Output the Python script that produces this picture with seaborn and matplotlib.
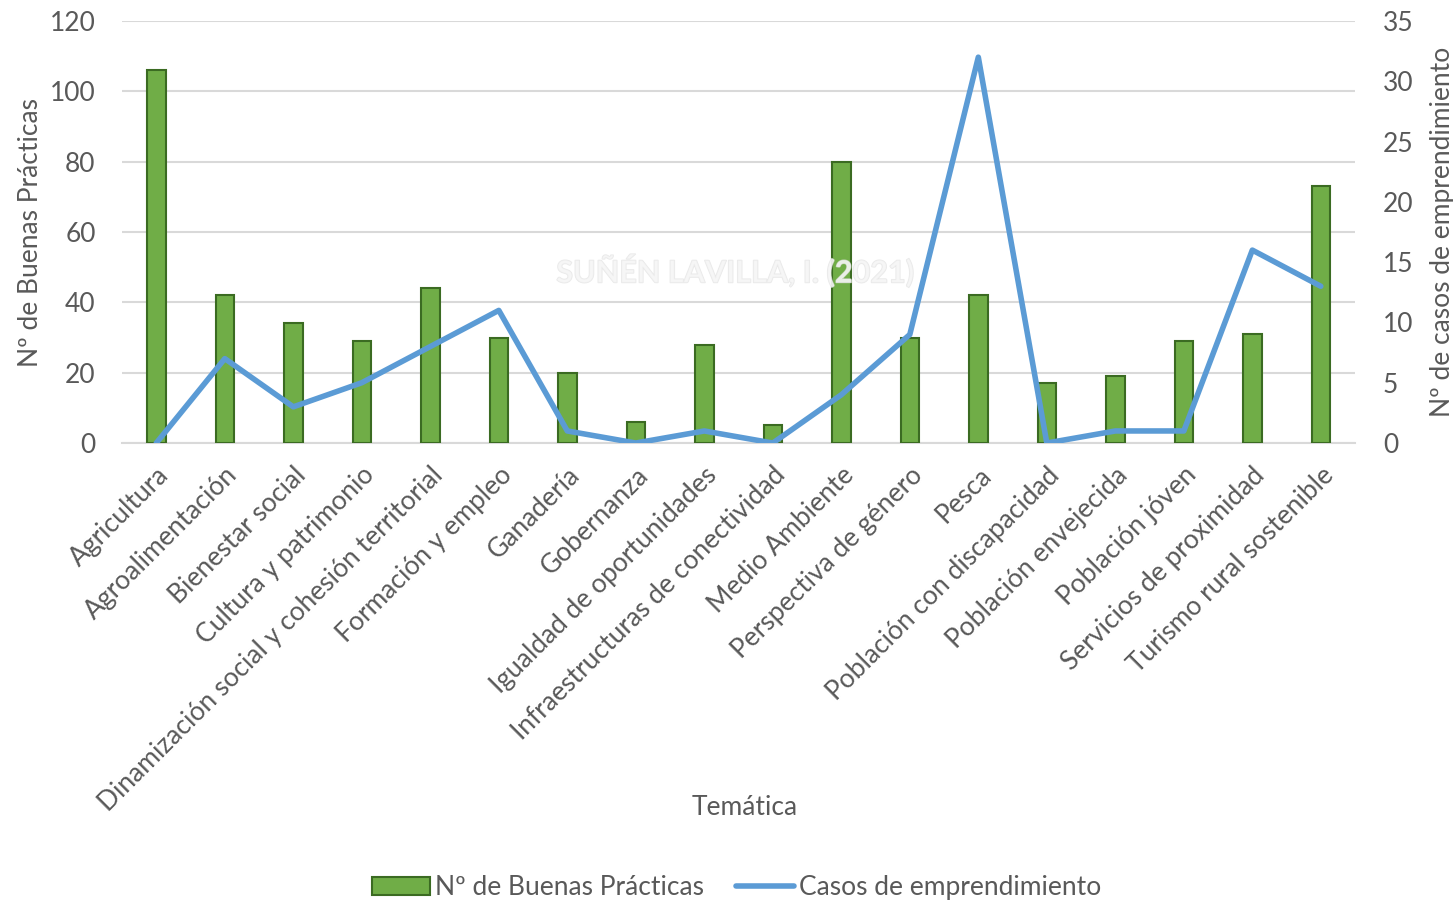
import matplotlib
matplotlib.use("Agg")
import matplotlib.pyplot as plt
import matplotlib.patheffects as pe
import seaborn as sns
import pandas as pd
from matplotlib.patches import Patch
from matplotlib.lines import Line2D

# datos
tematicas = ["Agricultura", "Agroalimentación", "Bienestar social", "Cultura y patrimonio",
             "Dinamización social y cohesión territorial", "Formación y empleo", "Ganadería",
             "Gobernanza", "Igualdad de oportunidades", "Infraestructuras de conectividad",
             "Medio Ambiente", "Perspectiva de género", "Pesca", "Población con discapacidad",
             "Población envejecida", "Población jóven", "Servicios de proximidad",
             "Turismo rural sostenible"]
buenas_practicas = [106, 42, 34, 29, 44, 30, 20, 6, 28, 5, 80, 30, 42, 17, 19, 29, 31, 73]
casos_emprendimiento = [0, 7, 3, 5, 8, 11, 1, 0, 1, 0, 4, 9, 32, 0, 1, 1, 16, 13]

df = pd.DataFrame({"Temática": tematicas,
                   "Buenas": buenas_practicas,
                   "Casos": casos_emprendimiento})

sns.set_style("white")
plt.rcParams["font.family"] = ["Lato", "DejaVu Sans"]
gris = "#595959"
verde = "#70AD47"
azul = "#5B9BD5"
fs = 19

fig = plt.figure(figsize=(14.53, 9.01), dpi=100)
ax = fig.add_axes([0.084, 0.5083, 0.8486, 0.4684])

sns.barplot(data=df, x="Temática", y="Buenas", ax=ax, color=verde, width=0.27,
            edgecolor="#3B6B22", linewidth=1.5, saturation=1, zorder=3)
ax.set_ylim(0, 120)
ax.set_yticks(range(0, 121, 20))
ax.grid(axis="y", color="#D9D9D9", linewidth=1.5, zorder=0)
ax.set_axisbelow(True)

# marca de agua (semi-transparente, bajo la linea)
ax.text(0.497, 0.408, "SUÑÉN LAVILLA, I. (2021)", transform=ax.transAxes,
        fontsize=22, fontweight="bold", color="#F6F6F6", alpha=0.7,
        ha="center", va="center", zorder=4,
        path_effects=[pe.withStroke(linewidth=1.0, foreground="#E0E0E0")])

ax2 = ax.twinx()
sns.pointplot(data=df, x="Temática", y="Casos", ax=ax2, color=azul, markers="",
              linewidth=4, errorbar=None)
ax2.set_ylim(0, 35)
ax2.set_yticks(range(0, 36, 5))
ax.set_xlim(-0.5, len(tematicas) - 0.5)

for a in (ax, ax2):
    for s in a.spines.values():
        s.set_visible(False)
    a.tick_params(length=0, labelsize=fs, colors=gris)
ax.spines["bottom"].set_visible(True)
ax.spines["bottom"].set_color("#D9D9D9")
ax.spines["bottom"].set_linewidth(1.5)

ax.set_xticks(range(len(tematicas)))
ax.set_xticklabels(tematicas, rotation=45, ha="right", va="top", rotation_mode="anchor")
ax.tick_params(axis="x", pad=14)
ax.tick_params(axis="y", pad=19)
ax2.tick_params(axis="y", pad=20)

ax.set_xlabel("Temática", fontsize=fs, color=gris)
ax.xaxis.set_label_coords(0.505, -0.834)
ax.set_ylabel("Nº de Buenas Prácticas", fontsize=fs, color=gris, labelpad=5)
ax2.set_ylabel("Nº de casos de emprendimiento", fontsize=fs, color=gris, labelpad=12)
ax2.set_xlabel("")

handles = [Patch(facecolor=verde, edgecolor="#3B6B22", linewidth=1.5),
           Line2D([0], [0], color=azul, linewidth=4)]
fig.legend(handles, ["Nº de Buenas Prácticas", "Casos de emprendimiento"],
           loc="center", bbox_to_anchor=(0.507, 0.015), ncol=2, frameon=False,
           fontsize=fs, labelcolor=gris, handlelength=2.2, handletextpad=0.2,
           columnspacing=1.2)

fig.savefig("out.png", dpi=100)
